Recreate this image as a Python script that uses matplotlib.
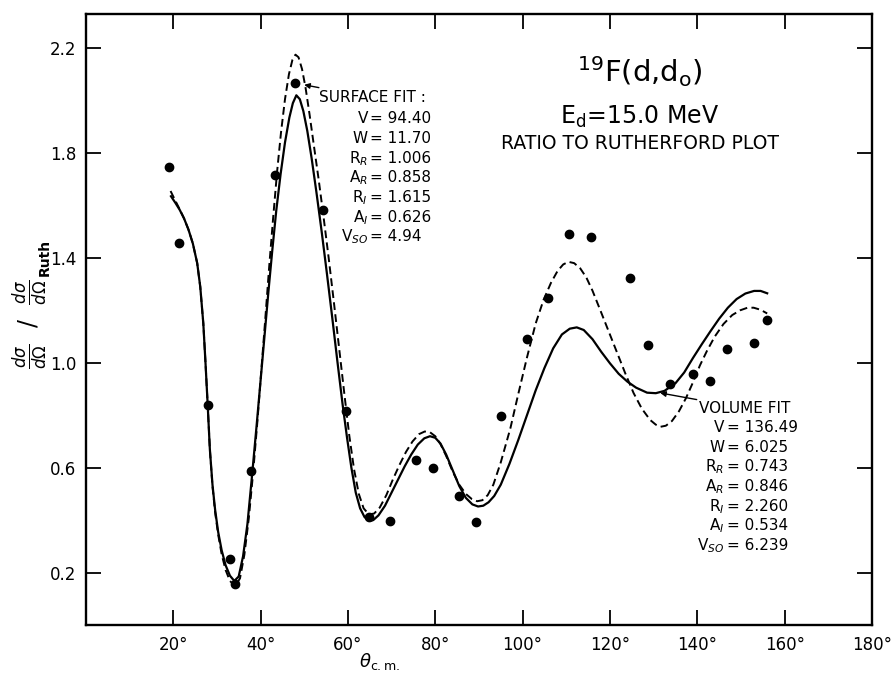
import numpy as np
import matplotlib.pyplot as plt

# points experimentaux 19F(d,d0), Ed = 15 MeV
theta_exp = [19.1, 21.4, 27.9, 33.0, 34.2, 37.9, 43.2, 47.9, 54.3, 59.5,
             64.8, 69.6, 75.6, 79.4, 85.4, 89.4, 95.1, 101.0, 105.8, 110.7,
             115.7, 124.6, 128.8, 133.8, 139.0, 143.0, 146.9, 152.9, 156.0]
ratio_exp = [1.745, 1.456, 0.838, 0.250, 0.155, 0.587, 1.717, 2.067, 1.582, 0.817,
             0.412, 0.396, 0.631, 0.597, 0.493, 0.393, 0.798, 1.090, 1.246, 1.490,
             1.480, 1.324, 1.066, 0.919, 0.957, 0.932, 1.052, 1.075, 1.163]

# ajustement volume (trait plein)
theta_vol = [19.5, 20.5, 21.5, 22.5, 23.5, 24.5, 25.5, 26.2, 26.9, 27.4,
             27.9, 28.4, 29.0, 29.6, 30.3, 31.1, 32.0, 33.0, 34.0, 35.0,
             36.0, 37.0, 38.0, 39.1, 40.0, 40.9, 41.8, 42.7, 43.6, 44.6,
             45.6, 46.6, 47.4, 48.2, 49.0, 49.8, 50.7, 51.7, 52.8, 54.0,
             55.2, 56.4, 57.6, 58.8, 59.8, 60.8, 61.8, 62.8, 63.8, 64.8,
             65.8, 67.0, 68.5, 70.0, 71.5, 73.0, 74.5, 76.0, 77.5, 78.8,
             80.0, 81.2, 82.5, 84.0, 85.5, 87.0, 88.5, 89.8, 91.0, 92.2,
             93.5, 95.0, 97.0, 99.0, 101.0, 103.0, 105.0, 107.0, 109.0, 110.8,
             112.4, 114.0, 116.0, 118.0, 120.0, 122.0, 124.0, 126.0, 128.5, 130.5,
             132.5, 135.0, 137.0, 139.0, 141.0, 143.0, 145.0, 147.0, 149.0, 151.0,
             153.0, 154.5, 156.0]
ratio_vol = [1.635, 1.610, 1.583, 1.550, 1.508, 1.455, 1.380, 1.290, 1.150, 1.000,
             0.840, 0.670, 0.535, 0.440, 0.355, 0.285, 0.228, 0.188, 0.168, 0.185,
             0.262, 0.385, 0.560, 0.760, 0.930, 1.100, 1.270, 1.430, 1.580, 1.720,
             1.840, 1.935, 1.990, 2.020, 2.005, 1.960, 1.885, 1.780, 1.650, 1.500,
             1.340, 1.175, 1.005, 0.840, 0.715, 0.600, 0.505, 0.445, 0.412, 0.398,
             0.400, 0.418, 0.455, 0.505, 0.555, 0.605, 0.650, 0.688, 0.712, 0.720,
             0.714, 0.692, 0.650, 0.590, 0.530, 0.485, 0.460, 0.452, 0.455, 0.468,
             0.492, 0.535, 0.615, 0.705, 0.800, 0.895, 0.980, 1.055, 1.108, 1.130,
             1.135, 1.125, 1.090, 1.042, 0.998, 0.958, 0.928, 0.905, 0.886, 0.884,
             0.893, 0.922, 0.963, 1.018, 1.070, 1.120, 1.168, 1.210, 1.243, 1.264,
             1.274, 1.274, 1.265]

# ajustement surface (tirets)
theta_surf = [19.4, 20.5, 21.5, 22.5, 23.5, 24.5, 25.5, 26.2, 26.9, 27.4,
              27.9, 28.4, 29.0, 29.6, 30.3, 31.1, 32.0, 33.0, 34.2, 35.3,
              36.3, 37.3, 38.3, 39.3, 40.2, 41.1, 42.0, 42.9, 43.8, 44.7,
              45.6, 46.5, 47.3, 48.0, 48.7, 49.5, 50.3, 51.2, 52.2, 53.3,
              54.4, 55.6, 56.8, 58.0, 59.2, 60.3, 61.4, 62.5, 63.6, 64.8,
              66.0, 67.3, 68.8, 70.3, 71.8, 73.3, 74.8, 76.3, 77.6, 78.8,
              80.0, 81.2, 82.5, 84.0, 85.5, 87.0, 88.4, 89.6, 90.8, 92.0,
              93.3, 95.0, 97.2, 99.0, 101.0, 103.0, 104.8, 106.5, 108.0, 109.3,
              110.5, 111.8, 113.2, 114.6, 116.0, 117.8, 119.7, 121.6, 123.5, 125.4,
              127.3, 129.2, 130.5, 131.6, 132.8, 134.2, 135.8, 137.4, 139.0, 140.6,
              142.2, 144.0, 146.0, 148.0, 149.8, 151.5, 152.9, 154.5, 156.0]
ratio_surf = [1.655, 1.618, 1.585, 1.550, 1.508, 1.455, 1.380, 1.290, 1.150, 1.000,
              0.840, 0.670, 0.530, 0.430, 0.345, 0.270, 0.210, 0.168, 0.148, 0.178,
              0.268, 0.405, 0.580, 0.780, 0.975, 1.170, 1.370, 1.555, 1.730, 1.880,
              2.005, 2.100, 2.155, 2.175, 2.165, 2.120, 2.050, 1.950, 1.830, 1.700,
              1.560, 1.400, 1.230, 1.055, 0.880, 0.725, 0.595, 0.500, 0.445, 0.422,
              0.425, 0.448, 0.495, 0.555, 0.610, 0.660, 0.700, 0.728, 0.738, 0.735,
              0.720, 0.690, 0.645, 0.585, 0.535, 0.500, 0.480, 0.472, 0.476, 0.495,
              0.535, 0.620, 0.750, 0.880, 1.020, 1.150, 1.240, 1.305, 1.350, 1.375,
              1.385, 1.380, 1.360, 1.325, 1.275, 1.200, 1.120, 1.040, 0.960, 0.885,
              0.825, 0.782, 0.764, 0.756, 0.760, 0.778, 0.815, 0.865, 0.925, 0.990,
              1.045, 1.100, 1.148, 1.182, 1.200, 1.210, 1.210, 1.202, 1.188]

x_ticks = [20, 40, 60, 80, 100, 120, 140, 160, 180]
y_ticks = [0.2, 0.6, 1.0, 1.4, 1.8, 2.2]

surf_params = [("V", "94.40"), ("W", "11.70"), ("R$_R$", "1.006"), ("A$_R$", "0.858"),
               ("R$_I$", "1.615"), ("A$_I$", "0.626"), ("V$_{SO}$", "4.94")]
vol_params = [("V", "136.49"), ("W", "6.025"), ("R$_R$", "0.743"), ("A$_R$", "0.846"),
              ("R$_I$", "2.260"), ("A$_I$", "0.534"), ("V$_{SO}$", "6.239")]

plt.rcParams["font.family"] = "DejaVu Sans"
plt.rcParams["mathtext.fontset"] = "dejavusans"

fig = plt.figure(figsize=(8.93, 6.73), dpi=100)
ax = fig.add_axes([0.0961, 0.0713, 0.8804, 0.9079])

ax.plot(theta_vol, ratio_vol, color="black", lw=1.6)
ax.plot(theta_surf, ratio_surf, color="black", lw=1.4, ls=(0, (4, 2.2)))
ax.plot(theta_exp, ratio_exp, "o", color="black", ms=6, zorder=5)

ax.set_xlim(0, 180)
ax.set_ylim(0, 2.33)
ax.set_xticks(x_ticks)
ax.set_xticklabels(["%d°" % t for t in x_ticks], fontsize=12)
ax.set_yticks(y_ticks)
ax.set_yticklabels(["%.1f" % v for v in y_ticks], fontsize=12)
ax.tick_params(direction="in", length=11, width=1.3, top=True, right=True, pad=7)
ax.tick_params(axis="x", pad=8)
for s in ax.spines.values():
    s.set_linewidth(1.7)

ax.set_xlabel(r"$\theta_{\mathrm{c.m.}}$", fontsize=13)
ax.xaxis.set_label_coords(0.374, -0.043)

# label vertical : rapport a Rutherford
fig.text(0.034, 0.518,
         r"$\frac{d\sigma}{d\Omega}\ \ /\ \ \frac{d\sigma}{d\Omega}$",
         rotation=90, fontsize=17, ha="center", va="center")
fig.text(0.050, 0.617, "Ruth", rotation=90, fontsize=10, fontweight="bold",
         ha="center", va="center")

# titre dans le cadre
fig.text(0.717, 0.893, r"$^{19}$F(d,d$_\mathrm{o}$)", fontsize=21, ha="center", va="center")
fig.text(0.716, 0.826, r"E$_\mathrm{d}$=15.0 MeV", fontsize=17, ha="center", va="center")
fig.text(0.717, 0.787, "RATIO TO RUTHERFORD PLOT", fontsize=13.5, ha="center", va="center")

# surface fit
ax.annotate("SURFACE FIT :", xy=(50.0, 2.06), xytext=(53.3, 2.01),
            fontsize=11, va="center", ha="left",
            arrowprops=dict(arrowstyle="-|>", color="black", lw=1.0, shrinkA=0, shrinkB=0,
                            mutation_scale=8))
for i, (nm, val) in enumerate(surf_params):
    y = 1.93 - i * 0.075
    ax.text(64.6, y, nm, fontsize=11, ha="right", va="center")
    ax.text(65.1, y, "= " + val, fontsize=11, ha="left", va="center")

# volume fit
ax.annotate("VOLUME FIT", xy=(131.5, 0.885), xytext=(140.5, 0.826),
            fontsize=11, va="center", ha="left",
            arrowprops=dict(arrowstyle="-|>", color="black", lw=1.0, shrinkA=0, shrinkB=0,
                            mutation_scale=8))
for i, (nm, val) in enumerate(vol_params):
    y = 0.753 - i * 0.075
    ax.text(146.2, y, nm, fontsize=11, ha="right", va="center")
    ax.text(146.7, y, "= " + val, fontsize=11, ha="left", va="center")

plt.savefig("out.png", dpi=100)
